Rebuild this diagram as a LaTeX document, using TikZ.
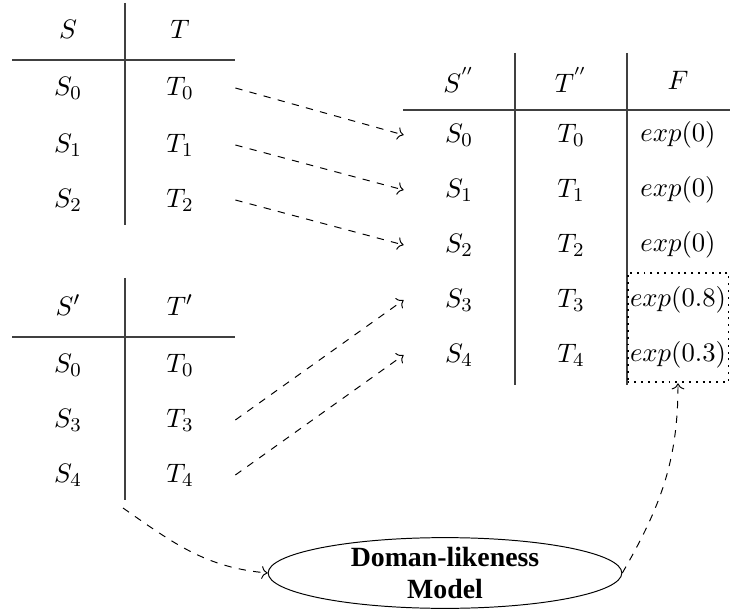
\documentclass[tikz,border=0pt]{standalone}
\usepackage{fontspec}
\usetikzlibrary{arrows.meta,positioning,calc,fit,shapes.geometric}
\newfontfamily\modelfont{Liberation Serif}

\begin{document}
\begin{tikzpicture}[x=0.41pt,y=-0.41pt,
    c/.style={minimum width=45pt,minimum height=22pt,inner sep=0pt,font=\fontsize{10.95}{13.6}\selectfont},
    f/.style={c,minimum width=41pt},
    g/.style={draw=black!75,semithick},
    a/.style={->,dashed}]
  \useasboundingbox (0,0) rectangle (730,612);
  % first table
  \node[c] (sh) at (68,29) {$S$};  \node[c] (th) at (180,29) {$T$};
  \node[c] (s0) at (68,88) {$S_0$}; \node[c] (t0) at (180,88) {$T_0$};
  \node[c] (s1) at (68,145) {$S_1$}; \node[c] (t1) at (180,145) {$T_1$};
  \node[c] (s2) at (68,200) {$S_2$}; \node[c] (t2) at (180,200) {$T_2$};
  \draw[g] (12,60) -- (235,60) (125,3) -- (125,225);
  % second table
  \node[c] (ph) at (68,305) {$S'$};  \node[c] (qh) at (180,305) {$T'$};
  \node[c] (p0) at (68,365) {$S_0$}; \node[c] (q0) at (180,365) {$T_0$};
  \node[c] (p3) at (68,420) {$S_3$}; \node[c] (q3) at (180,420) {$T_3$};
  \node[c] (p4) at (68,475) {$S_4$}; \node[c] (q4) at (180,475) {$T_4$};
  \draw[g] (12,337) -- (235,337) (125,278) -- (125,500);
  \coordinate (lb) at (123,508);
  % merged table
  \node[c] (uh) at (459,80) {$S^{''}$}; \node[c] (vh) at (571,80) {$T^{''}$}; \node[f] (fh) at (678,80) {$F$};
  \node[c] (u0) at (459,135) {$S_0$}; \node[c] (v0) at (571,135) {$T_0$}; \node[f] (f0) at (678,135) {$exp(0)$};
  \node[c] (u1) at (459,190) {$S_1$}; \node[c] (v1) at (571,190) {$T_1$}; \node[f] (f1) at (678,190) {$exp(0)$};
  \node[c] (u2) at (459,245) {$S_2$}; \node[c] (v2) at (571,245) {$T_2$}; \node[f] (f2) at (678,245) {$exp(0)$};
  \node[c] (u3) at (459,300) {$S_3$}; \node[c] (v3) at (571,300) {$T_3$}; \node[f] (f3) at (678,300) {$exp(0.8)$};
  \node[c] (u4) at (459,355) {$S_4$}; \node[c] (v4) at (571,355) {$T_4$}; \node[f] (f4) at (678,355) {$exp(0.3)$};
  \draw[g] (403,110) -- (730,110) (515,53) -- (515,385) (627,53) -- (627,385);
  \node[draw,dotted,line width=0.8pt,fit=(f3)(f4),inner sep=0pt] (box) {};
  % model
  \node[draw,ellipse,minimum width=145pt,minimum height=29pt,inner xsep=0pt,inner ysep=-4pt,
    align=center,font={\modelfont\bfseries\fontsize{11.4}{13}\selectfont}] (model) at (445,573) {Doman-likeness\\Model};
  \draw[a] (t0.east) -- (u0.west); \draw[a] (t1.east) -- (u1.west);
  \draw[a] (t2.east) -- (u2.west);
  \draw[a] (q3.east) -- (u3.west); \draw[a] (q4.east) -- (u4.west);
  \draw[a] (lb) to[out=-35,in=175] (model.west);
  \draw[a] (model.east) to[out=60,in=-90] (box.south);
\end{tikzpicture}
\end{document}
